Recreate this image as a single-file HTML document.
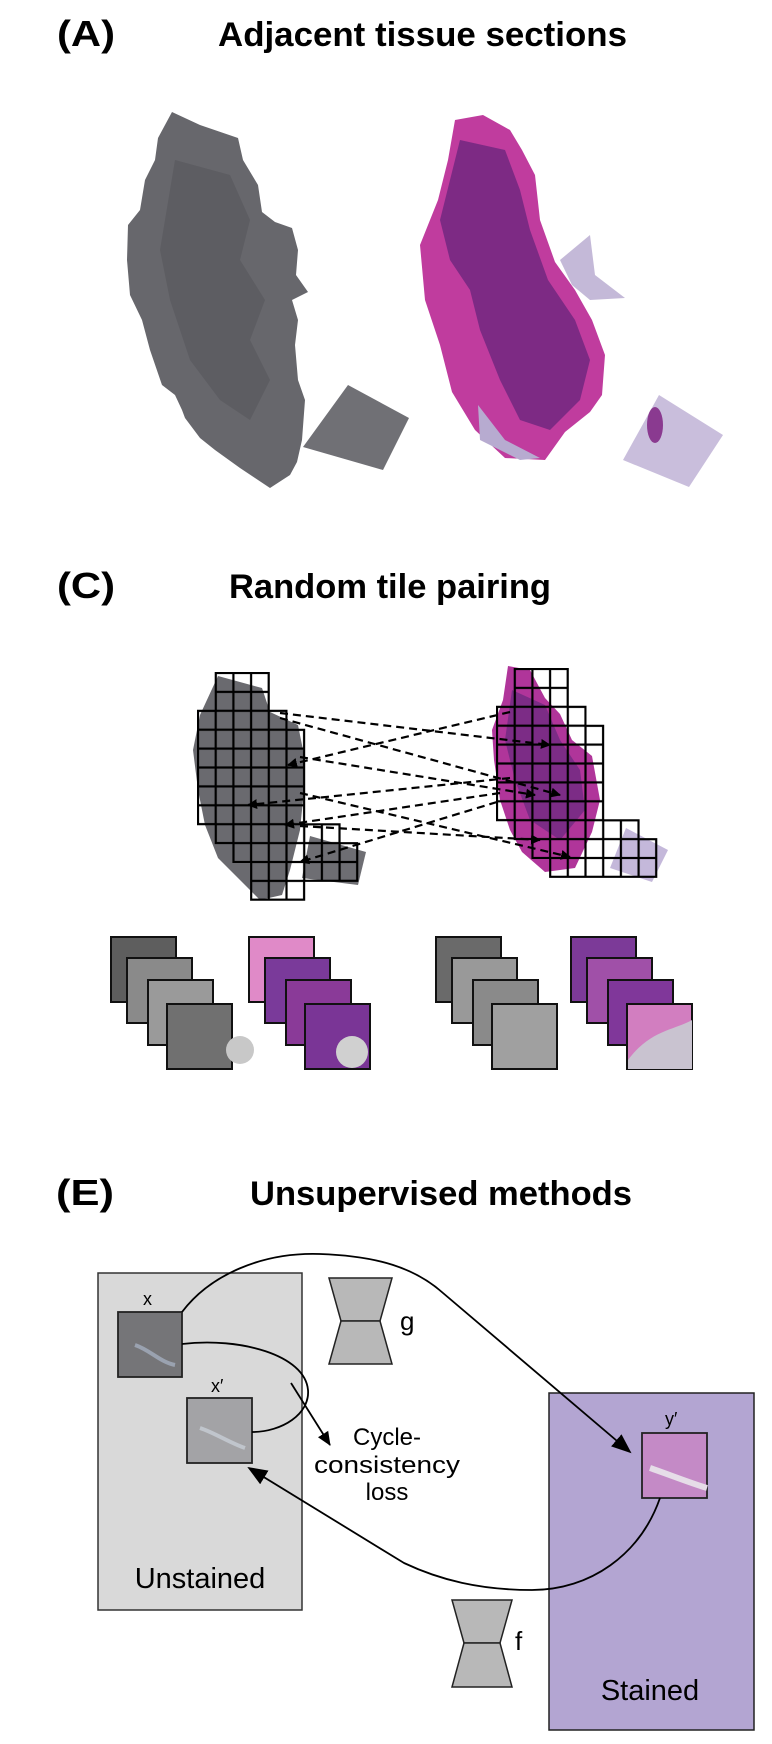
<!DOCTYPE html>
<html><head><meta charset="utf-8"><style>
html,body{margin:0;padding:0;background:#fff;}
svg{display:block;}
text{font-family:"Liberation Sans",sans-serif;}
</style></head><body>
<svg width="772" height="1744" viewBox="0 0 772 1744" xmlns="http://www.w3.org/2000/svg">
<defs>
<pattern id="gridL" patternUnits="userSpaceOnUse" x="198" y="673" width="17.7" height="18.9">
<rect x="0" y="0" width="17.7" height="18.9" fill="none" stroke="#000" stroke-width="2.2"/></pattern>
<pattern id="gridR" patternUnits="userSpaceOnUse" x="497" y="669" width="17.7" height="18.9">
<rect x="0" y="0" width="17.7" height="18.9" fill="none" stroke="#000" stroke-width="2.2"/></pattern>
<marker id="ah" markerWidth="10" markerHeight="10" refX="9" refY="5" orient="auto" markerUnits="userSpaceOnUse" viewBox="0 0 10 10">
<path d="M0,0 L10,5 L0,10 Z" fill="#000"/></marker>
<marker id="ahb" markerWidth="20" markerHeight="20" refX="18" refY="10" orient="auto" markerUnits="userSpaceOnUse" viewBox="0 0 20 20">
<path d="M0,2 L20,10 L0,18 Z" fill="#000"/></marker>
<marker id="ahm" markerWidth="14" markerHeight="14" refX="13" refY="7" orient="auto" markerUnits="userSpaceOnUse" viewBox="0 0 14 14">
<path d="M0,1 L14,7 L0,13 Z" fill="#000"/></marker>
</defs>

<!-- (A) -->
<text x="57" y="46" font-size="36" font-weight="bold" textLength="58" lengthAdjust="spacingAndGlyphs">(A)</text>
<text x="218" y="46" font-size="34" font-weight="bold" textLength="409" lengthAdjust="spacingAndGlyphs">Adjacent tissue sections</text>

<!-- gray tissue -->
<polygon fill="#67676c" points="172,112 200,125 238,138 243,160 258,185 262,212 275,222 292,228 298,250 296,275 308,292 292,300 298,320 295,345 298,380 305,400 302,440 297,462 290,475 270,488 255,478 240,468 215,450 200,438 185,418 182,410 175,395 162,385 150,350 142,320 130,295 127,260 128,225 140,210 145,180 155,160 158,138"/>
<polygon fill="#5d5d62" points="175,160 230,175 250,220 240,260 265,300 250,340 270,380 250,420 220,400 190,360 170,300 160,250"/>
<polygon fill="#707075" points="348,385 409,418 383,470 303,447"/>

<!-- pink tissue -->
<polygon fill="#c03c9e" points="455,120 483,115 510,130 522,150 535,175 540,220 555,262 575,290 592,320 605,355 602,395 590,412 565,432 545,460 505,458 475,430 452,392 440,345 425,300 420,245 438,200 448,160"/>
<polygon fill="#7d2a84" points="460,140 505,150 520,190 530,230 548,280 575,320 590,360 580,400 550,430 520,420 500,380 480,330 470,290 450,260 440,220"/>
<polygon fill="#b7abd0" points="478,405 505,440 540,458 520,460 480,440"/>
<polygon fill="#c4b9d8" points="560,260 590,235 595,275 625,298 590,300 572,285"/>
<polygon fill="#c9bedc" points="659,395 723,435 689,487 623,460"/>
<ellipse cx="655" cy="425" rx="8" ry="18" fill="#8a3a90"/>

<!-- (C) -->
<text x="57" y="598" font-size="36" font-weight="bold" textLength="58" lengthAdjust="spacingAndGlyphs">(C)</text>
<text x="229" y="598" font-size="34" font-weight="bold" textLength="322" lengthAdjust="spacingAndGlyphs">Random tile pairing</text>

<polygon fill="#6a6a6f" points="218,676 262,688 270,712 298,725 305,760 303,800 300,830 290,870 282,895 260,900 240,880 218,858 205,825 198,790 193,750 200,715"/>
<polygon fill="#6e6e73" points="310,836 366,852 358,885 302,878"/>
<polygon fill="url(#gridL)" stroke="#000" stroke-width="2" points="215.7,673 268.8,673 268.8,710.8 286.5,710.8 286.5,729.7 304.2,729.7 304.2,824.2 339.6,824.2 339.6,843.1 357.3,843.1 357.3,880.9 304.2,880.9 304.2,899.8 251.1,899.8 251.1,862 233.4,862 233.4,843.1 215.7,843.1 215.7,824.2 198,824.2 198,710.8 215.7,710.8"/>

<polygon fill="#b0359a" points="508,666 530,670 545,698 560,714 572,740 592,756 600,800 592,832 575,868 545,872 522,852 510,830 500,800 494,760 492,730 503,700"/>
<polygon fill="#7c2c86" points="512,690 545,705 560,740 580,770 585,810 560,840 530,820 515,780 505,740"/>
<polygon fill="#c4b8da" points="626,828 668,850 652,882 610,868"/>
<polygon fill="url(#gridR)" stroke="#000" stroke-width="2" points="514.7,669 567.8,669 567.8,706.8 585.5,706.8 585.5,725.7 603.2,725.7 603.2,820.2 638.6,820.2 638.6,839.1 656.3,839.1 656.3,876.9 550.1,876.9 550.1,858 532.4,858 532.4,839.1 514.7,839.1 514.7,820.2 497,820.2 497,706.8 514.7,706.8"/>

<g stroke="#000" stroke-width="2.2" stroke-dasharray="8,5" fill="none" marker-end="url(#ah)">
<line x1="280" y1="713" x2="550" y2="745"/>
<line x1="280" y1="718" x2="560" y2="795"/>
<line x1="510" y1="712" x2="288" y2="765"/>
<line x1="300" y1="757" x2="535" y2="795"/>
<line x1="510" y1="778" x2="248" y2="805"/>
<line x1="300" y1="793" x2="570" y2="857"/>
<line x1="500" y1="793" x2="285" y2="825"/>
<line x1="300" y1="826" x2="540" y2="840"/>
<line x1="497" y1="802" x2="300" y2="862"/>
</g>

<g stroke="#111" stroke-width="2">
<rect x="111" y="937" width="65" height="65" fill="#5e5e5e"/>
<rect x="127" y="958" width="65" height="65" fill="#8a8a8a"/>
<rect x="148" y="980" width="65" height="65" fill="#9a9a9a"/>
<rect x="167" y="1004" width="65" height="65" fill="#707070"/>
<rect x="249" y="937" width="65" height="65" fill="#e08ac8"/>
<rect x="265" y="958" width="65" height="65" fill="#7a3a9a"/>
<rect x="286" y="980" width="65" height="65" fill="#8a3a98"/>
<rect x="305" y="1004" width="65" height="65" fill="#7a3596"/>
<rect x="436" y="937" width="65" height="65" fill="#6a6a6a"/>
<rect x="452" y="958" width="65" height="65" fill="#999"/>
<rect x="473" y="980" width="65" height="65" fill="#8a8a8a"/>
<rect x="492" y="1004" width="65" height="65" fill="#a0a0a0"/>
<rect x="571" y="937" width="65" height="65" fill="#7c3a98"/>
<rect x="587" y="958" width="65" height="65" fill="#a050a8"/>
<rect x="608" y="980" width="65" height="65" fill="#80379a"/>
<rect x="627" y="1004" width="65" height="65" fill="#d27ec0"/>
</g>
<circle cx="240" cy="1050" r="14" fill="#c8c8c8"/>
<circle cx="352" cy="1052" r="16" fill="#d0d0d0"/>
<path d="M628,1060 C650,1030 675,1030 692,1020 L692,1069 L628,1069 Z" fill="#c9c3d0"/>

<!-- (E) -->
<text x="56" y="1205" font-size="36" font-weight="bold" textLength="58" lengthAdjust="spacingAndGlyphs">(E)</text>
<text x="250" y="1205" font-size="34" font-weight="bold" textLength="382" lengthAdjust="spacingAndGlyphs">Unsupervised methods</text>

<rect x="98" y="1273" width="204" height="337" fill="#d9d9d9" stroke="#333" stroke-width="1.5"/>
<rect x="549" y="1393" width="205" height="337" fill="#b3a5d2" stroke="#222" stroke-width="1.5"/>

<polygon points="329,1278 392,1278 380,1321 341,1321" fill="#b8b8b8" stroke="#222" stroke-width="1.5"/>
<polygon points="341,1321 380,1321 392,1364 329,1364" fill="#b8b8b8" stroke="#222" stroke-width="1.5"/>
<text x="400" y="1330" font-size="26">g</text>
<polygon points="452,1600 512,1600 500,1643 464,1643" fill="#b8b8b8" stroke="#222" stroke-width="1.5"/>
<polygon points="464,1643 500,1643 512,1687 452,1687" fill="#b8b8b8" stroke="#222" stroke-width="1.5"/>
<text x="515" y="1650" font-size="26">f</text>

<rect x="118" y="1312" width="64" height="65" fill="#757578" stroke="#222" stroke-width="1.8"/>
<path d="M135,1345 C150,1350 160,1362 175,1365" stroke="#9aa2b0" stroke-width="4" fill="none"/>
<text x="143" y="1305" font-size="18">x</text>
<rect x="187" y="1398" width="65" height="65" fill="#a3a3a6" stroke="#222" stroke-width="1.8"/>
<path d="M200,1428 C215,1433 230,1443 245,1448" stroke="#c0c5cc" stroke-width="4" fill="none"/>
<text x="211" y="1392" font-size="18">x′</text>
<rect x="642" y="1433" width="65" height="65" fill="#c48ac6" stroke="#222" stroke-width="1.8"/>
<path d="M650,1468 C665,1473 690,1483 707,1488" stroke="#e6dde8" stroke-width="6" fill="none"/>
<text x="665" y="1425" font-size="18">y′</text>

<g fill="none" stroke="#000" stroke-width="1.8">
<path d="M182,1312 C210,1275 262,1252 320,1254 C378,1256 415,1268 443,1293 L630,1452" marker-end="url(#ahb)"/>
<path d="M182,1344 C240,1337 305,1355 308,1390 C310,1414 282,1432 252,1432"/>
<path d="M291,1383 L330,1445" marker-end="url(#ahm)"/>
<path d="M660,1498 C640,1555 590,1590 532,1590 C480,1590 440,1580 404,1563 L249,1468" marker-end="url(#ahb)"/>
</g>

<g font-size="24" text-anchor="middle">
<text x="387" y="1445">Cycle-</text>
<text x="387" y="1473" textLength="146" lengthAdjust="spacingAndGlyphs">consistency</text>
<text x="387" y="1500">loss</text>
</g>
<text x="200" y="1588" font-size="29" text-anchor="middle">Unstained</text>
<text x="650" y="1700" font-size="29" text-anchor="middle">Stained</text>
</svg>
</body></html>
